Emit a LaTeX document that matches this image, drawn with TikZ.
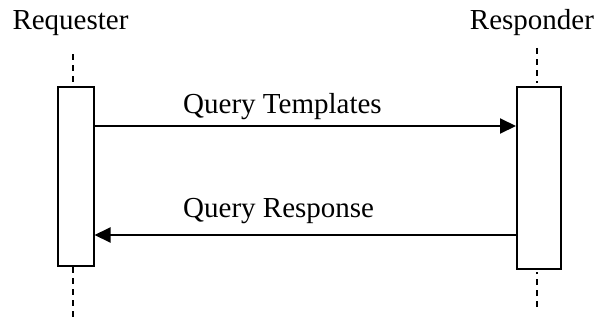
\documentclass[tikz,border=0pt]{standalone}
\usepackage{fontspec}
\setmainfont{Liberation Serif}
\usetikzlibrary{arrows.meta}
\usetikzlibrary{positioning}

\tikzset{
	actbox/.style={draw,line width=2pt,fill=white,inner sep=0pt},
	lifeline/.style={line width=1.6pt,dash pattern=on 6pt off 5pt},
	msg/.style={line width=2pt,-{Triangle[length=16pt,width=15pt]}},
	lbl/.style={font=\fontsize{29}{35}\selectfont,inner sep=0pt,anchor=base}
}

\begin{document}
\begin{tikzpicture}[x=1pt,y=-1pt]
	\useasboundingbox (0,0) rectangle (601,321);
	% actors
	\node[lbl] (req) at (70.5,30) {Requester};
	\node[lbl] (resp) at (532,30) {Responder};
	% activations
	\node[actbox,minimum width=36pt,minimum height=179pt] (reqbox) at (75.5,176.5) {};
	\node[actbox,minimum width=44pt,minimum height=182pt] (respbox) at (539,178) {};
	% lifelines
	\coordinate (reqtop) at (73,54);
	\coordinate (reqbot) at (73,321);
	\coordinate (resptop) at (537,48);
	\coordinate (respbot) at (537,307);
	\draw[lifeline] (reqtop) -- (reqtop |- reqbox.north);
	\draw[lifeline] (reqbot |- reqbox.south) -- (reqbot);
	\draw[lifeline] (resptop) -- ++(0,35);
	\draw[lifeline] (respbot) -- ++(0,-35);
	% messages
	\coordinate (m1) at (0,126);
	\coordinate (m2) at (0,235);
	\draw[msg] (reqbox.east |- m1) -- (respbox.west |- m1);
	\draw[msg] (respbox.west |- m2) -- (reqbox.east |- m2);
	\node[lbl,anchor=base west] (qt) at (183,113) {Query Templates};
	\node[lbl,anchor=base west] (qr) at (183,217) {Query Response};
\end{tikzpicture}
\end{document}
